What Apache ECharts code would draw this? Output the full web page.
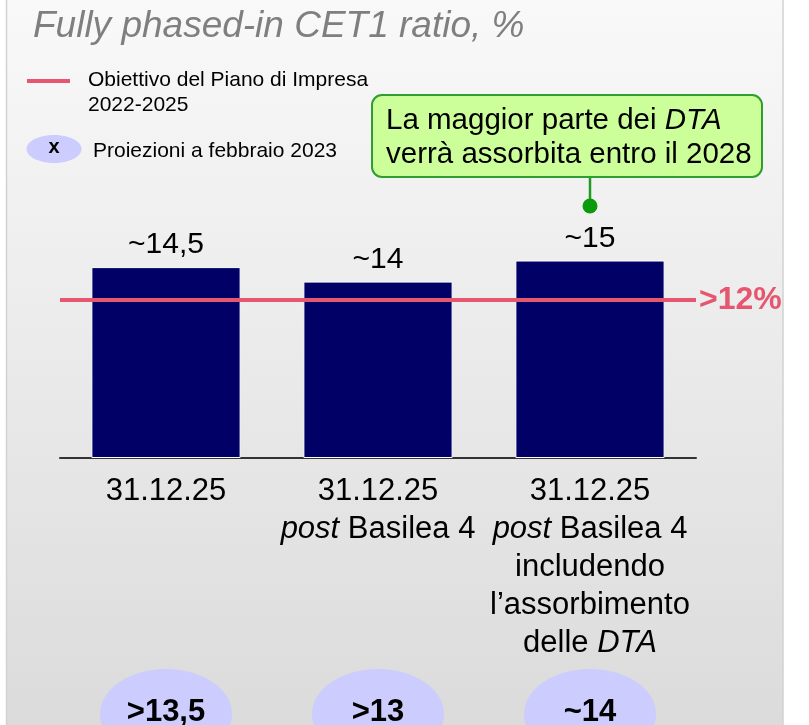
<!DOCTYPE html>
<html><head><meta charset="utf-8">
<script src="https://cdn.jsdelivr.net/npm/echarts@6/dist/echarts.min.js"></script>
<style>html,body{margin:0;padding:0;background:#fff}#c{width:809px;height:725px}</style>
</head><body><div id="c"></div>
<script>
const titleText = 'Fully phased-in CET1 ratio, %';
const categories = [
  '31.12.25',
  '31.12.25\n{i|post} Basilea 4',
  '31.12.25\n{i|post} Basilea 4\nincludendo\nl’assorbimento\ndelle {i|DTA}'
];
const barValues = [14.5, 13.4, 15.0];
const barLabels = ['~14,5', '~14', '~15'];
const targetValue = 12;
const targetLabel = '>12%';
const projectionLabels = ['>13,5', '>13', '~14'];
const legendTargetText = 'Obiettivo del Piano di Impresa\n2022-2025';
const legendProjectionText = 'Proiezioni a febbraio 2023';
const legendProjectionSymbol = 'x';
const calloutText = '{n|La maggior parte dei }{i|DTA}\n{n|verrà assorbita entro il 2028}';

const FONT = "'Liberation Sans', Arial, sans-serif";
const NAVY = '#000066';
const PINK = '#e6566f';
const LAVENDER = '#ccccff';

const chart = echarts.init(document.getElementById('c'), null, {renderer: 'canvas'});

const option = {
  animation: false,
  textStyle: {fontFamily: FONT},
  grid: {left: 60, right: 113, top: 194.7, bottom: 267, containLabel: false},
  xAxis: {
    type: 'category',
    data: categories,
    axisLine: {show: true, lineStyle: {color: '#333', width: 2}},
    axisTick: {show: false},
    axisLabel: {
      interval: 0,
      margin: 14,
      verticalAlign: 'top',
      color: '#000',
      fontSize: 31,
      lineHeight: 38,
      fontFamily: FONT,
      rich: {i: {fontStyle: 'italic', fontSize: 31, lineHeight: 38, color: '#000', fontFamily: FONT}}
    }
  },
  yAxis: {
    type: 'value', min: 0, max: 20,
    axisLine: {show: false}, axisTick: {show: false}, axisLabel: {show: false}, splitLine: {show: false}
  },
  series: [{
    type: 'bar',
    data: barValues,
    barCategoryGap: '29.6%',
    itemStyle: {color: NAVY, borderColor: '#ffffff', borderWidth: 1},
    label: {
      show: true, position: 'top', distance: 7,
      formatter: p => barLabels[p.dataIndex],
      fontSize: 30, color: '#000', fontFamily: FONT
    },
    markLine: {
      silent: true,
      symbol: ['none', 'none'],
      lineStyle: {color: PINK, width: 4, type: 'solid'},
      label: {
        show: true, position: 'end', distance: 3,
        formatter: targetLabel,
        color: PINK, fontSize: 32, fontWeight: 'bold', fontFamily: FONT
      },
      data: [{yAxis: targetValue}],
      z: 5
    }
  }]
};
chart.setOption(option);

const xs = categories.map((c, i) => chart.convertToPixel({xAxisIndex: 0}, i));
const dotY = 206;

const graphics = [
  {
    type: 'rect', z: -10, silent: true,
    shape: {x: 6.5, y: -2, width: 776.5, height: 730},
    style: {
      fill: new echarts.graphic.LinearGradient(0, 0, 0, 1, [
        {offset: 0, color: '#f9f9f9'}, {offset: 1, color: '#dbdbdb'}
      ]),
      stroke: '#d2d2d2', lineWidth: 1.5
    }
  },
  {
    type: 'text', z: 100, x: 33, y: 27,
    style: {text: titleText, fill: '#7f7f7f', fontSize: 37, fontStyle: 'italic', fontFamily: FONT, verticalAlign: 'middle', align: 'left'}
  },
  {
    type: 'line', z: 100,
    shape: {x1: 27, y1: 81, x2: 70, y2: 81},
    style: {stroke: PINK, lineWidth: 4}
  },
  {
    type: 'text', z: 100, x: 88, y: 68,
    style: {text: legendTargetText, fill: '#000', fontSize: 21, lineHeight: 25, fontFamily: FONT, verticalAlign: 'top', align: 'left'}
  },
  {
    type: 'ellipse', z: 100,
    shape: {cx: 54, cy: 149, rx: 27.5, ry: 14},
    style: {fill: LAVENDER}
  },
  {
    type: 'text', z: 101, x: 54, y: 147,
    style: {text: legendProjectionSymbol, fill: '#000', fontSize: 20, fontWeight: 'bold', fontFamily: FONT, verticalAlign: 'middle', align: 'center'}
  },
  {
    type: 'text', z: 100, x: 93, y: 151,
    style: {text: legendProjectionText, fill: '#000', fontSize: 21, fontFamily: FONT, verticalAlign: 'middle', align: 'left'}
  },
  {
    type: 'line', z: 100,
    shape: {x1: xs[2], y1: 177, x2: xs[2], y2: dotY},
    style: {stroke: '#229922', lineWidth: 2.5}
  },
  {
    type: 'circle', z: 101,
    shape: {cx: xs[2], cy: dotY, r: 7.5},
    style: {fill: '#0b9a0b'}
  },
  {
    type: 'rect', z: 100,
    shape: {x: xs[2] - 218, y: 95, width: 390, height: 82, r: 10},
    style: {fill: '#ccff99', stroke: '#2e9e2e', lineWidth: 2}
  },
  {
    type: 'text', z: 101, x: xs[2] - 204, y: 104,
    style: {
      text: calloutText, fill: '#000', fontFamily: FONT, fontSize: 29.5, lineHeight: 34,
      verticalAlign: 'top', align: 'left',
      rich: {
        n: {fontSize: 29.5, lineHeight: 34, fontFamily: FONT, fill: '#000'},
        i: {fontSize: 29.5, lineHeight: 34, fontFamily: FONT, fontStyle: 'italic', fill: '#000'}
      }
    }
  }
];

projectionLabels.forEach((t, i) => {
  graphics.push({
    type: 'ellipse', z: 100,
    shape: {cx: xs[i], cy: 714, rx: 66, ry: 45},
    style: {fill: LAVENDER}
  });
  graphics.push({
    type: 'text', z: 101, x: xs[i], y: 712,
    style: {text: t, fill: '#000', fontSize: 31, fontWeight: 'bold', fontFamily: FONT, verticalAlign: 'middle', align: 'center'}
  });
});

chart.setOption({graphic: graphics});
</script>
</body></html>
